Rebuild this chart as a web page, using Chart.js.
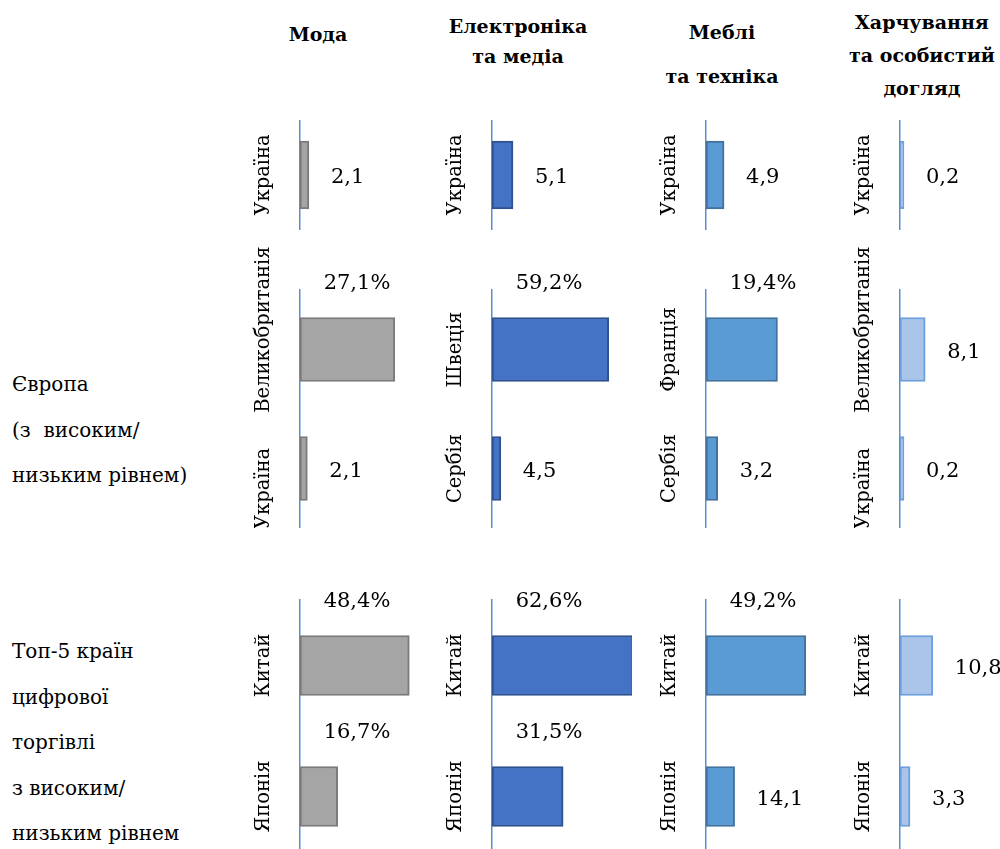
<!DOCTYPE html>
<html>
<head>
<meta charset="utf-8">
<title>Цифрова торгівля за категоріями</title>
<script src="https://cdn.jsdelivr.net/npm/chart.js@4.4.1/dist/chart.umd.min.js"></script>
<style>
  html, body { margin: 0; padding: 0; background: #fff; overflow: hidden; }
  #page { position: relative; width: 1000px; height: 849px; overflow: hidden; color: #000;
          font-family: "DejaVu Serif", "Liberation Serif", serif; font-size: 20px; }
  .head { position: absolute; width: 220px; text-align: center; font-weight: bold; font-size: 19px; }
  .group { position: absolute; left: 12px; font-size: 20px; line-height: 45.5px; white-space: pre; }
  .cell { position: absolute; }
</style>
</head>
<body>
<div id="page"></div>

<script>
/* ── Data ─────────────────────────────────────────────── */
const categories = [
    ["Мода"],
    ["Електроніка", "та медіа"],
    ["Меблі", "та техніка"],
    ["Харчування", "та особистий", "догляд"],
];

const groupEurope = ["Європа", "(з  високим/", "низьким рівнем)"];
const groupTop5 = ["Топ-5 країн", "цифрової", "торгівлі", "з високим/", "низьким рівнем"];

// Україна окремо (верхній ряд)
const ukraineNames = ["Україна", "Україна", "Україна", "Україна"];
const ukraineValues = [2.1, 5.1, 4.9, 0.2];

// Європа: лідер / аутсайдер
const europeHighNames = ["Великобританія", "Швеція", "Франція", "Великобританія"];
const europeHighValues = [27.1, 59.2, 19.4, 8.1];
const europeLowNames = ["Україна", "Сербія", "Сербія", "Україна"];
const europeLowValues = [2.1, 4.5, 3.2, 0.2];

// Топ-5 країн цифрової торгівлі
const topHighNames = ["Китай", "Китай", "Китай", "Китай"];
const topHighValues = [48.4, 62.6, 49.2, 10.8];
const topLowNames = ["Японія", "Японія", "Японія", "Японія"];
const topLowValues = [16.7, 31.5, 14.1, 3.3];

/* ── Layout / style ───────────────────────────────────── */
const NAME_FONT = '19.5px "DejaVu Serif", "Liberation Serif", serif';
const VALUE_FONT = '21px "DejaVu Serif", "Liberation Serif", serif';
const axisX = [300, 492, 706, 900];
const headX = [318, 518, 722, 922];
const headLines = [
    { mid: 35, step: 0 },
    { mid: 27, step: 30 },
    { mid: 33, step: 44 },
    { mid: 23, step: 33 },
];
const fills = ["#a5a5a5", "#4472c4", "#5b9bd5", "#abc4e9"];
const strokes = ["#7b7b7b", "#2f528f", "#41719c", "#6c9fdc"];
const AXIS_COLOR = "#5b8bd6";

// each row of panels gets its own x range (the source draws them independently)
const ukraineMax = [33, 34, 38, 35];
const europeMax = [40, 71, 38, 45];
const topMax = [62, 62, 69, 46];

const rows = [
    { top: 120, height: 110, pad: 0, thick: 68, names: [ukraineNames], values: [ukraineValues], max: ukraineMax },
    { top: 245, height: 283, pad: 45, thick: 64, names: [europeHighNames, europeLowNames], values: [europeHighValues, europeLowValues], max: europeMax },
    { top: 562, height: 300, pad: 38, thick: 60, names: [topHighNames, topLowNames], values: [topHighValues, topLowValues], max: topMax },
];

const page = document.getElementById("page");

/* ── Text blocks ──────────────────────────────────────── */
categories.forEach((lines, c) => {
    lines.forEach((t, k) => {
        const d = document.createElement("div");
        d.className = "head";
        d.textContent = t;
        d.style.left = (headX[c] - 110) + "px";
        d.style.top = (headLines[c].mid + k * headLines[c].step - 12) + "px";
        page.appendChild(d);
    });
});

function addGroup(lines, top) {
    const d = document.createElement("div");
    d.className = "group";
    d.textContent = lines.join("\n");
    d.style.top = top + "px";
    page.appendChild(d);
}
addGroup(groupEurope, 362);
addGroup(groupTop5, 629);

/* ── Labels plugin ────────────────────────────────────── */
const fmt = v => v.toFixed(1).replace(".", ",") + (v >= 15 ? "%" : "");

const cellLabels = {
    id: "cellLabels",
    afterDatasetsDraw(chart) {
        const { ctx, chartArea, scales: { y } } = chart;
        const meta = chart.getDatasetMeta(0);
        const vals = chart.data.datasets[0].data;
        ctx.save();
        ctx.fillStyle = "#000";
        ctx.font = NAME_FONT;
        ctx.textBaseline = "middle";

        // rotated country names left of the axis, pushed apart when long
        const names = y.getLabels();
        const pos = names.map((n, i) => y.getPixelForValue(i));
        const half = names.map(n => ctx.measureText(n).width / 2);
        for (let i = 0; i < names.length - 1; i++) {
            const over = pos[i] + half[i] + 35 - (pos[i + 1] - half[i + 1]);
            if (over > 0) { pos[i] -= over / 2; pos[i + 1] += over / 2; }
        }
        names.forEach((name, i) => {
            ctx.save();
            ctx.translate(chartArea.left - 36, pos[i]);
            ctx.rotate(-Math.PI / 2);
            ctx.textAlign = "center";
            ctx.fillText(name, 0, 0);
            ctx.restore();
        });

        // values: shares above the bar, small numbers beside it
        ctx.font = VALUE_FONT;
        meta.data.forEach((bar, i) => {
            const { x, y: by, height } = bar.getProps(["x", "y", "height"], true);
            const v = vals[i];
            if (v >= 15) {
                ctx.textAlign = "center";
                ctx.fillText(fmt(v), chartArea.left + 57, by - height / 2 - 34);
            } else {
                ctx.textAlign = "left";
                ctx.fillText(fmt(v), x + 22, by + 3);
            }
        });
        ctx.restore();
    },
};

/* ── Charts ───────────────────────────────────────────── */
rows.forEach(row => {
    axisX.forEach((ax, c) => {
        const wrap = document.createElement("div");
        wrap.className = "cell";
        wrap.style.left = (ax - 50) + "px";
        wrap.style.top = row.top + "px";
        const cv = document.createElement("canvas");
        cv.width = 190;
        cv.height = row.height;
        wrap.appendChild(cv);
        page.appendChild(wrap);

        new Chart(cv, {
            type: "bar",
            data: {
                labels: row.names.map(n => n[c]),
                datasets: [{
                    data: row.values.map(v => v[c]),
                    backgroundColor: fills[c],
                    borderColor: strokes[c],
                    borderWidth: 2,
                    borderSkipped: false,
                    barThickness: row.thick,
                    minBarLength: 4,
                }],
            },
            options: {
                indexAxis: "y",
                responsive: false,
                animation: false,
                layout: { padding: { top: row.pad, right: 0, bottom: 0, left: 0 } },
                plugins: { legend: { display: false }, tooltip: { enabled: false } },
                scales: {
                    x: { display: false, min: 0, max: row.max[c] },
                    y: {
                        ticks: { display: false },
                        grid: { display: false },
                        border: { display: true, color: AXIS_COLOR, width: 1.5 },
                        afterFit: s => { s.width = 50; },
                    },
                },
            },
            plugins: [cellLabels],
        });
    });
});
</script>
</body>
</html>
